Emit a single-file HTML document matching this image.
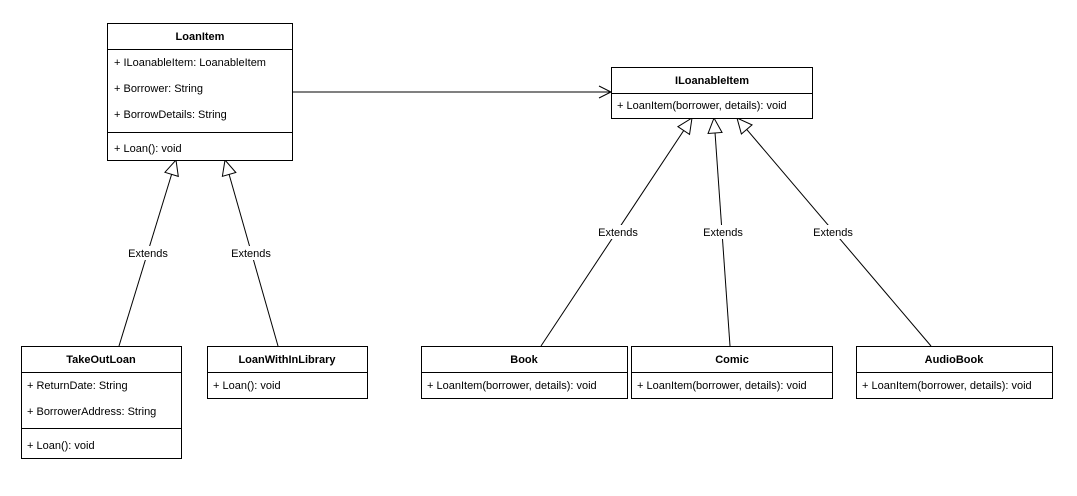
<!DOCTYPE html>
<html><head><style>
body{margin:0;background:#fff;}
svg text{font-family:"Liberation Sans",sans-serif;font-size:11px;fill:#000;}
</style></head><body>
<svg width="1077" height="491" xmlns="http://www.w3.org/2000/svg">
<defs>
<marker id="tri" markerWidth="18" markerHeight="18" refX="16" refY="8" orient="auto" markerUnits="userSpaceOnUse">
<path d="M1,1 L16,8 L1,15 Z" fill="#fff" stroke="#000" stroke-width="1"/>
</marker>
<marker id="open" markerWidth="16" markerHeight="16" refX="13" refY="7" orient="auto" markerUnits="userSpaceOnUse">
<path d="M1,1 L13,7 L1,13" fill="none" stroke="#000" stroke-width="1"/>
</marker>
</defs>
<g stroke="#000" fill="none" stroke-width="1">
<line x1="292" y1="92" x2="611" y2="92" marker-end="url(#open)"/>
<line x1="119" y1="346" x2="176" y2="160" marker-end="url(#tri)"/>
<line x1="278" y1="346" x2="225" y2="160" marker-end="url(#tri)"/>
<line x1="541" y1="346" x2="692" y2="118" marker-end="url(#tri)"/>
<line x1="730" y1="346" x2="714" y2="118" marker-end="url(#tri)"/>
<line x1="931" y1="346" x2="737" y2="118" marker-end="url(#tri)"/>
</g>
<g fill="#fff">
<rect x="125" y="246" width="46" height="14"/>
<rect x="228" y="246" width="46" height="14"/>
<rect x="595" y="225" width="46" height="14"/>
<rect x="700" y="225" width="46" height="14"/>
<rect x="810" y="225" width="46" height="14"/>
</g>
<g text-anchor="middle">
<text x="148" y="257">Extends</text>
<text x="251" y="257">Extends</text>
<text x="618" y="236">Extends</text>
<text x="723" y="236">Extends</text>
<text x="833" y="236">Extends</text>
</g>
<g stroke="#000" fill="#fff" stroke-width="1">
<rect x="107.5" y="23.5" width="185" height="137"/>
<line x1="107.5" y1="49.5" x2="292.5" y2="49.5"/>
<line x1="107.5" y1="132.5" x2="292.5" y2="132.5"/>
<rect x="611.5" y="67.5" width="201" height="51"/>
<line x1="611.5" y1="93.5" x2="812.5" y2="93.5"/>
<rect x="21.5" y="346.5" width="160" height="112"/>
<line x1="21.5" y1="372.5" x2="181.5" y2="372.5"/>
<line x1="21.5" y1="428.5" x2="181.5" y2="428.5"/>
<rect x="207.5" y="346.5" width="160" height="52"/>
<line x1="207.5" y1="372.5" x2="367.5" y2="372.5"/>
<rect x="421.5" y="346.5" width="206" height="52"/>
<line x1="421.5" y1="372.5" x2="627.5" y2="372.5"/>
<rect x="631.5" y="346.5" width="201" height="52"/>
<line x1="631.5" y1="372.5" x2="832.5" y2="372.5"/>
<rect x="856.5" y="346.5" width="196" height="52"/>
<line x1="856.5" y1="372.5" x2="1052.5" y2="372.5"/>
</g>
<g font-weight="bold" text-anchor="middle">
<text x="200" y="40" font-weight="bold">LoanItem</text>
<text x="712" y="84" font-weight="bold">ILoanableItem</text>
<text x="101" y="363" font-weight="bold">TakeOutLoan</text>
<text x="287" y="363" font-weight="bold">LoanWithInLibrary</text>
<text x="524" y="363" font-weight="bold">Book</text>
<text x="732" y="363" font-weight="bold">Comic</text>
<text x="954" y="363" font-weight="bold">AudioBook</text>
</g>
<text x="114" y="66">+ ILoanableItem: LoanableItem</text>
<text x="114" y="92">+ Borrower: String</text>
<text x="114" y="118">+ BorrowDetails: String</text>
<text x="114" y="152">+ Loan(): void</text>
<text x="617" y="109">+ LoanItem(borrower, details): void</text>
<text x="27" y="389">+ ReturnDate: String</text>
<text x="27" y="415">+ BorrowerAddress: String</text>
<text x="27" y="449">+ Loan(): void</text>
<text x="213" y="389">+ Loan(): void</text>
<text x="427" y="389">+ LoanItem(borrower, details): void</text>
<text x="637" y="389">+ LoanItem(borrower, details): void</text>
<text x="862" y="389">+ LoanItem(borrower, details): void</text>
</svg>
</body></html>
